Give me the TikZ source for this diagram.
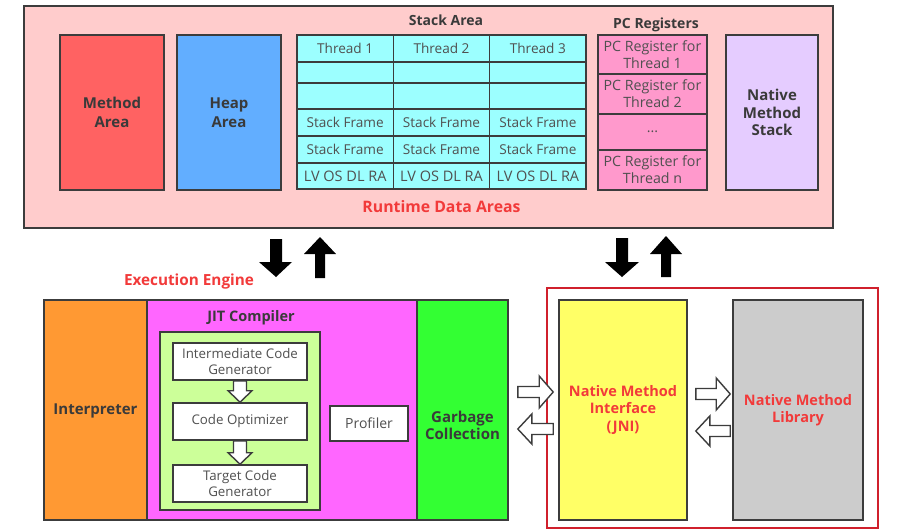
\documentclass[tikz,border=0pt]{standalone}
\usepackage{fontspec}
\setmainfont{Open Sans}
\usetikzlibrary{calc}
\definecolor{bord}{HTML}{3C3C3C}
\definecolor{txt}{HTML}{3A3A3A}
\definecolor{celltxt}{HTML}{505050}
\definecolor{redtxt}{HTML}{F23A3A}
\definecolor{redbox}{HTML}{D0202C}
\definecolor{outerpink}{HTML}{FFCCCC}
\definecolor{methodc}{HTML}{FF6262}
\definecolor{heapc}{HTML}{62AEFF}
\definecolor{cyanc}{HTML}{9CFFFF}
\definecolor{pcpink}{HTML}{FF99CC}
\definecolor{nstack}{HTML}{E5CCFF}
\definecolor{interpc}{HTML}{FF9933}
\definecolor{jitc}{HTML}{FF66FF}
\definecolor{greenin}{HTML}{CCFF99}
\definecolor{gcc}{HTML}{33FF33}
\definecolor{jnic}{HTML}{FFFF66}
\definecolor{libc}{HTML}{CCCCCC}
\newcommand\bxnode[7]{\node[#6, minimum width={(#4-#2)*1pt}, minimum height={(#5-#3)*1pt}] (#1) at ({(#2+#4)/2},{(#3+#5)/2}) {#7};}
\newcommand\harrowR[2]{\path[hollow] let \p1=#1, \p2=#2 in (\x1,\y1+5.5pt) -- (\x2-14pt,\y1+5.5pt) -- (\x2-14pt,\y1+16pt) -- (\x2,\y1) -- (\x2-14pt,\y1-16pt) -- (\x2-14pt,\y1-5.5pt) -- (\x1,\y1-5.5pt) -- cycle;}
\newcommand\harrowL[2]{\path[hollow] let \p1=#1, \p2=#2 in (\x1,\y1+5.5pt) -- (\x2+14pt,\y1+5.5pt) -- (\x2+14pt,\y1+15pt) -- (\x2,\y1) -- (\x2+14pt,\y1-15pt) -- (\x2+14pt,\y1-5.5pt) -- (\x1,\y1-5.5pt) -- cycle;}
\newcommand\varrowD[2]{\path[hollow] let \p1=#1, \p2=#2 in (\x1-6.5pt,\y1) -- (\x1-6.5pt,\y2+11.5pt) -- (\x1-12pt,\y2+11.5pt) -- (\x2,\y2) -- (\x1+12pt,\y2+11.5pt) -- (\x1+6.5pt,\y2+11.5pt) -- (\x1+6.5pt,\y1) -- cycle;}
\begin{document}
\begin{tikzpicture}[x=1pt,y=-1pt,
  bx/.style={draw=bord, line width=1.6pt, inner sep=0pt, align=center, text=txt, font=\bfseries\fontsize{15}{17.5}\selectfont},
  cell/.style={draw=bord, line width=1.4pt, fill=cyanc, inner sep=0pt, align=center, text=celltxt, font=\fontsize{13.6}{15}\selectfont},
  pccell/.style={cell, fill=pcpink, font=\fontsize{14.2}{17}\selectfont},
  wcell/.style={cell, fill=white, line width=1.6pt, font=\fontsize{13.3}{16}\selectfont},
  ttl/.style={inner sep=0pt, text=txt, font=\bfseries\fontsize{14}{16}\selectfont},
  redttl/.style={inner sep=0pt, text=redtxt, align=center, font=\bfseries\fontsize{15.8}{18}\selectfont},
  hollow/.style={draw=bord, line width=1.4pt, fill=white, line join=miter},
  blk/.style={fill=black}]
\useasboundingbox (0,0) rectangle (900,531);
\fill[white] (0,0) rectangle (900,531);
% Runtime data areas
\bxnode{outer}{24}{6}{833}{228}{bx, fill=outerpink, line width=1.4pt}{}
\bxnode{method}{60}{35}{164}{190}{bx, fill=methodc, font=\bfseries\fontsize{15}{18.5}\selectfont}{Method\\Area}
\bxnode{heap}{177}{35}{281}{190}{bx, fill=heapc, font=\bfseries\fontsize{15}{18.5}\selectfont}{Heap\\Area}
\node[ttl] (stacklbl) at (446,20) {Stack Area};
\foreach \c/\xa/\xb in {1/297/393.3, 2/393.3/489.7, 3/489.7/586} {
  \bxnode{t\c a}{\xa}{35}{\xb}{62}{cell}{Thread \c}
  \bxnode{t\c b}{\xa}{62}{\xb}{83}{cell}{}
  \bxnode{t\c c}{\xa}{83}{\xb}{109}{cell}{}
  \bxnode{t\c d}{\xa}{109}{\xb}{136}{cell}{Stack Frame}
  \bxnode{t\c e}{\xa}{136}{\xb}{163}{cell}{Stack Frame}
  \bxnode{t\c f}{\xa}{163}{\xb}{189}{cell, font=\fontsize{14.5}{15}\selectfont}{LV OS DL RA}
}
\node[ttl] (pclbl) at (656,25) {PC Registers};
\bxnode{pc1}{598}{35}{707}{74}{pccell}{PC Register for\\Thread 1}
\bxnode{pc2}{598}{74}{707}{114}{pccell}{PC Register for\\Thread 2}
\bxnode{pc3}{598}{114}{707}{150}{pccell}{...}
\bxnode{pc4}{598}{150}{707}{190}{pccell}{PC Register for\\Thread n}
\bxnode{nstack}{726}{35}{818}{190}{bx, fill=nstack}{Native\\Method\\Stack}
\node[redttl] (rdalbl) at (441.5,207) {Runtime Data Areas};
% black arrows
\fill[blk] (270,239) -- (282,239) -- (282,262) -- (292,262) -- (276,277) -- (259,262) -- (270,262) -- cycle;
\fill[blk] (315,278) -- (325,278) -- (325,254) -- (336,254) -- (320,237) -- (304,254) -- (315,254) -- cycle;
\fill[blk] (616,238) -- (628,238) -- (628,262) -- (639,262) -- (622,277) -- (605,262) -- (616,262) -- cycle;
\fill[blk] (661,277) -- (671,277) -- (671,254) -- (682,254) -- (666,236) -- (650,254) -- (661,254) -- cycle;
% Execution engine
\node[redttl, font=\bfseries\fontsize{15.3}{18}\selectfont] (eelbl) at (189,282) {Execution Engine};
\bxnode{interp}{44}{300}{147}{520}{bx, fill=interpc}{}
\node[ttl, font=\bfseries\fontsize{15}{16}\selectfont] (interplbl) at (95.5,411) {Interpreter};
\bxnode{jit}{147}{300}{417}{520}{bx, fill=jitc}{}
\node[ttl, font=\bfseries\fontsize{14.5}{16}\selectfont] (jitlbl) at (251,318) {JIT Compiler};
\bxnode{green}{160}{332}{320}{510}{bx, fill=greenin}{}
\bxnode{icg}{173}{343}{307}{380}{wcell}{Intermediate Code\\Generator}
\bxnode{co}{173}{403}{307}{440}{wcell}{Code Optimizer}
\bxnode{tcg}{173}{465}{307}{502}{wcell}{Target Code\\Generator}
\varrowD{(icg.south)}{(co.north)}
\varrowD{(co.south)}{(tcg.north)}
\bxnode{prof}{330}{406}{408}{441}{wcell, font=\fontsize{14}{15}\selectfont}{Profiler}
\bxnode{gc}{417}{300}{508}{520}{bx, fill=gcc}{}
\node[ttl, align=center, font=\bfseries\fontsize{15}{17}\selectfont] (gclbl) at (462.5,425.5) {Garbage\\Collection};
% Native side
\draw[redbox, line width=1.4pt] (547,288) rectangle (878,528);
\coordinate (redboxc) at (712.5,408);
\bxnode{jni}{559}{300}{687}{520}{bx, fill=jnic, text=redtxt, font=\bfseries\fontsize{14.5}{17.5}\selectfont}{Native Method\\Interface\\(JNI)}
\bxnode{lib}{733}{300}{863}{520}{bx, fill=libc, text=redtxt, font=\bfseries\fontsize{14.5}{17.5}\selectfont}{Native Method\\Library}
\harrowR{($(gc.east)+(9,-18)$)}{($(jni.west)+(-5,-18)$)}
\harrowL{($(jni.west)+(-5,19)$)}{($(gc.east)+(9,19)$)}
\harrowR{($(jni.east)+(8,-16)$)}{($(lib.west)+(-2,-16)$)}
\harrowL{($(lib.west)+(-2,21)$)}{($(jni.east)+(8,21)$)}
\end{tikzpicture}
\end{document}
